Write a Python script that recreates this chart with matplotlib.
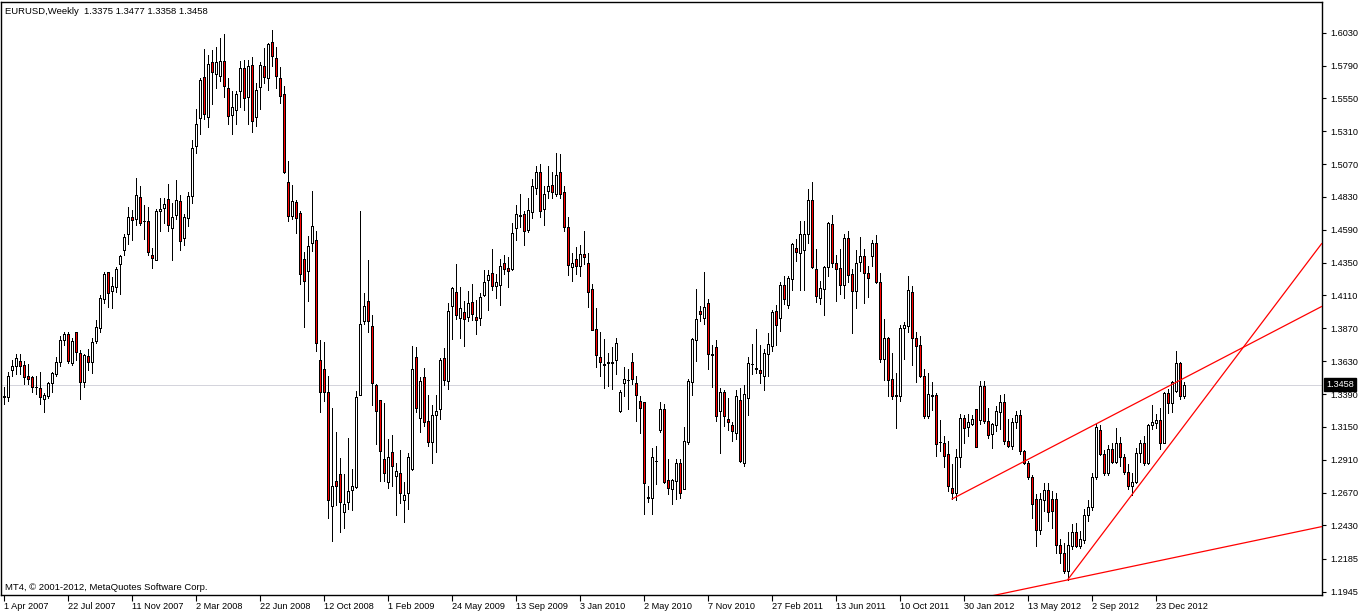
import matplotlib
matplotlib.use("Agg")
import matplotlib.pyplot as plt
import matplotlib.transforms as mtrans
import numpy as np

# ---------------- data (weekly EURUSD OHLC) ----------------
opens = [1.3375,1.3369,1.3563,1.3595,1.3633,1.3600,1.3525,1.3512,1.3442,1.3437,
1.3356,1.3379,1.3467,1.3538,1.3626,1.3782,1.3827,1.3613,1.3840,1.3689,
1.3475,1.3671,1.3626,1.3777,1.3870,1.4086,1.4280,1.4142,1.4174,1.4338,
1.4444,1.4559,1.4683,1.4666,1.4828,1.4658,1.4658,1.4403,1.4373,1.4726,
1.4746,1.4814,1.4600,1.4696,1.4801,1.4527,1.4675,1.4834,1.5204,1.5405,
1.5707,1.5418,1.5815,1.5732,1.5715,1.5823,1.5626,1.5430,1.5463,1.5601,
1.5773,1.5563,1.5798,1.5412,1.5631,1.5785,1.5697,1.5966,1.5848,1.5702,
1.5581,1.4942,1.4688,1.4791,1.4713,1.4380,1.4292,1.4494,1.4519,1.3638,
1.3570,1.3404,1.2568,1.2757,1.2807,1.2531,1.2598,1.2687,1.2712,1.3386,
1.3920,1.4071,1.3890,1.3457,1.3344,1.2913,1.2744,1.2964,1.2790,1.2815,
1.2614,1.2664,1.2840,1.3658,1.3218,1.3512,1.3190,1.3039,1.3235,1.3278,
1.3651,1.3482,1.4033,1.4134,1.3945,1.3991,1.3953,1.4061,1.3954,1.3942,
1.4115,1.4224,1.4271,1.4181,1.4188,1.4344,1.4310,1.4302,1.4600,1.4692,
1.4702,1.4590,1.4717,1.4899,1.5009,1.4741,1.4875,1.4919,1.4855,1.5009,
1.4870,1.4614,1.4315,1.4375,1.4327,1.4412,1.4351,1.4156,1.3864,1.3657,
1.3608,1.3613,1.3620,1.3640,1.3267,1.3467,1.3494,1.3627,1.3474,1.3340,
1.3328,1.2633,1.2633,1.2902,1.3126,1.3284,1.2760,1.2699,1.2755,1.2889,
1.2699,1.3040,1.3479,1.3786,1.3998,1.3942,1.4054,1.3686,1.3730,1.3267,
1.3401,1.3206,1.3162,1.3108,1.3345,1.2889,1.3364,1.3610,1.3578,1.3566,
1.3518,1.3686,1.3742,1.3993,1.3949,1.4185,1.4042,1.4234,1.4456,1.4417,
1.4440,1.4558,1.4807,1.4307,1.4095,1.4156,1.4319,1.4636,1.4351,1.4310,
1.4188,1.4529,1.4266,1.4144,1.4356,1.4395,1.4278,1.4395,1.4497,1.4205,
1.3649,1.3796,1.3498,1.3376,1.3372,1.3876,1.3888,1.4139,1.3796,1.3747,
1.3518,1.3231,1.3381,1.3381,1.3040,1.3035,1.2950,1.2706,1.2670,1.2926,
1.3218,1.3152,1.3169,1.3279,1.3201,1.3445,1.3194,1.3096,1.3162,1.3259,
1.3328,1.3047,1.3011,1.3186,1.3238,1.2974,1.2884,1.2787,1.2626,1.2397,
1.2616,1.2689,1.2621,1.2621,1.2285,1.2231,1.2097,1.2280,1.2382,1.2280,
1.2324,1.2504,1.2567,1.2787,1.3128,1.2950,1.2811,1.2987,1.2894,1.3035,
1.2926,1.2821,1.2719,1.2748,1.2957,1.3035,1.2884,1.3162,1.3181,1.3201,
1.3035,1.3396,1.3323,1.3413,1.3620,1.3375]

highs = [1.3440,1.3550,1.3638,1.3683,1.3683,1.3631,1.3608,1.3525,1.3525,1.3550,
1.3399,1.3475,1.3550,1.3663,1.3814,1.3845,1.3845,1.3802,1.3845,1.3709,
1.3683,1.3719,1.3802,1.3928,1.4116,1.4280,1.4285,1.4247,1.4318,1.4406,
1.4559,1.4758,1.4734,1.4971,1.4909,1.4771,1.4759,1.4456,1.4741,1.4822,
1.4822,1.4922,1.4784,1.4952,1.4841,1.4708,1.4866,1.5244,1.5470,1.5702,
1.5908,1.5866,1.5903,1.5924,1.5991,1.6024,1.5697,1.5601,1.5601,1.5823,
1.5828,1.5833,1.5853,1.5664,1.5815,1.5916,1.5959,1.6049,1.5924,1.5777,
1.5639,1.5093,1.4914,1.4808,1.4725,1.4431,1.4544,1.4876,1.4582,1.3784,
1.3769,1.3525,1.3286,1.3115,1.2921,1.2807,1.3072,1.2845,1.3411,1.4725,
1.4129,1.4368,1.3965,1.3462,1.3349,1.3323,1.3064,1.3089,1.2883,1.2984,
1.2745,1.2959,1.3739,1.3734,1.3512,1.3580,1.3386,1.3306,1.3381,1.3651,
1.3726,1.4053,1.4172,1.4343,1.4172,1.4071,1.4142,1.4197,1.4076,1.4127,
1.4297,1.4295,1.4449,1.4266,1.4375,1.4405,1.4388,1.4639,1.4770,1.4851,
1.4729,1.4819,1.4965,1.5058,1.5070,1.4912,1.5053,1.5016,1.5150,1.5143,
1.4912,1.4687,1.4417,1.4461,1.4478,1.4578,1.4417,1.4193,1.4022,1.3840,
1.3791,1.3688,1.3730,1.3796,1.3420,1.3591,1.3571,1.3688,1.3518,1.3376,
1.3333,1.2714,1.2999,1.3011,1.3328,1.3316,1.2918,1.2772,1.2918,1.2918,
1.3152,1.3498,1.3796,1.4156,1.4034,1.4283,1.4083,1.3747,1.3783,1.3437,
1.3420,1.3359,1.3189,1.3420,1.3432,1.3454,1.3657,1.3754,1.3864,1.3747,
1.3718,1.3835,1.4005,1.4039,1.4205,1.4249,1.4249,1.4492,1.4522,1.4651,
1.4651,1.4887,1.4943,1.4449,1.4217,1.4327,1.4648,1.4697,1.4405,1.4449,
1.4558,1.4583,1.4307,1.4444,1.4534,1.4449,1.4327,1.4514,1.4551,1.4278,
1.3937,1.3803,1.3688,1.3542,1.3895,1.3917,1.4249,1.4176,1.3844,1.3815,
1.3571,1.3547,1.3481,1.3396,1.3201,1.3084,1.3047,1.2877,1.2987,1.3242,
1.3235,1.3242,1.3235,1.3284,1.3486,1.3486,1.3291,1.3181,1.3303,1.3381,
1.3389,1.3206,1.3218,1.3267,1.3274,1.2982,1.2901,1.2797,1.2660,1.2665,
1.2738,1.2743,1.2682,1.2665,1.2329,1.2304,1.2382,1.2438,1.2446,1.2390,
1.2553,1.2616,1.2811,1.3169,1.3162,1.2982,1.3016,1.3030,1.3138,1.3079,
1.2950,1.2877,1.2816,1.2999,1.3055,1.3084,1.3169,1.3308,1.3242,1.3291,
1.3401,1.3425,1.3486,1.3705,1.3625,1.3477]

lows = [1.3320,1.3336,1.3525,1.3538,1.3538,1.3462,1.3462,1.3407,1.3387,1.3316,
1.3256,1.3361,1.3407,1.3525,1.3593,1.3751,1.3618,1.3605,1.3638,1.3356,
1.3442,1.3563,1.3543,1.3764,1.3840,1.4053,1.4028,1.4016,1.4136,1.4121,
1.4406,1.4488,1.4519,1.4625,1.4625,1.4524,1.4406,1.4310,1.4368,1.4582,
1.4640,1.4582,1.4368,1.4666,1.4439,1.4482,1.4615,1.4783,1.5148,1.5287,
1.5400,1.5345,1.5513,1.5626,1.5677,1.5564,1.5362,1.5287,1.5362,1.5488,
1.5463,1.5362,1.5304,1.5349,1.5470,1.5664,1.5614,1.5790,1.5626,1.5518,
1.5002,1.4657,1.4670,1.4569,1.4197,1.3877,1.4071,1.4438,1.3701,1.3255,
1.3341,1.2485,1.2316,1.2581,1.2384,1.2410,1.2551,1.2543,1.2702,1.3381,
1.3902,1.3840,1.3306,1.3021,1.2757,1.2757,1.2702,1.2719,1.2506,1.2594,
1.2455,1.2551,1.2833,1.3255,1.3110,1.3155,1.3009,1.2883,1.2964,1.3210,
1.3457,1.3424,1.3789,1.3940,1.3802,1.3744,1.3920,1.3928,1.3832,1.3896,
1.4107,1.4005,1.4149,1.4088,1.4042,1.4266,1.4173,1.4297,1.4517,1.4612,
1.4480,1.4575,1.4675,1.4851,1.4685,1.4626,1.4819,1.4819,1.4834,1.4819,
1.4583,1.4261,1.4217,1.4266,1.4254,1.4339,1.4029,1.3857,1.3584,1.3523,
1.3437,1.3445,1.3430,1.3535,1.3260,1.3376,1.3279,1.3462,1.3194,1.3108,
1.2516,1.2602,1.2516,1.2731,1.3113,1.2738,1.2658,1.2585,1.2621,1.2633,
1.2694,1.3023,1.3381,1.3632,1.3925,1.3900,1.3571,1.3444,1.3194,1.2962,
1.3157,1.3128,1.3047,1.3064,1.2896,1.2865,1.3238,1.3535,1.3542,1.3474,
1.3420,1.3523,1.3705,1.3749,1.3852,1.4046,1.4022,1.4151,1.4363,1.4151,
1.4151,1.4497,1.4310,1.4063,1.4046,1.3969,1.4254,1.4315,1.4071,1.4120,
1.4095,1.4205,1.3835,1.4015,1.4290,1.4054,1.4100,1.4327,1.4200,1.3625,
1.3493,1.3376,1.3352,1.3145,1.3340,1.3645,1.3840,1.3601,1.3479,1.3515,
1.3218,1.3211,1.3274,1.2938,1.2974,1.2853,1.2682,1.2621,1.2616,1.2853,
1.3030,1.3084,1.3162,1.3004,1.3169,1.3177,1.3072,1.2999,1.3121,1.3133,
1.3023,1.3006,1.2987,1.3145,1.2950,1.2877,1.2772,1.2487,1.2280,1.2370,
1.2536,1.2463,1.2414,1.2231,1.2153,1.2085,1.2031,1.2255,1.2275,1.2268,
1.2299,1.2463,1.2543,1.2772,1.2943,1.2797,1.2797,1.2884,1.2884,1.2865,
1.2804,1.2694,1.2650,1.2738,1.2894,1.2870,1.2877,1.3133,1.3138,1.2991,
1.3030,1.3250,1.3259,1.3406,1.3352,1.3358]

closes = [1.3370,1.3525,1.3593,1.3651,1.3593,1.3517,1.3500,1.3442,1.3440,1.3369,
1.3386,1.3467,1.3543,1.3621,1.3782,1.3827,1.3631,1.3777,1.3694,1.3475,
1.3676,1.3626,1.3769,1.3877,1.4091,1.4267,1.4129,1.4179,1.4305,1.4398,
1.4539,1.4683,1.4663,1.4841,1.4638,1.4655,1.4431,1.4381,1.4726,1.4741,
1.4778,1.4625,1.4683,1.4809,1.4507,1.4683,1.4834,1.5186,1.5362,1.5682,
1.5438,1.5803,1.5740,1.5815,1.5823,1.5639,1.5425,1.5488,1.5581,1.5773,
1.5556,1.5785,1.5382,1.5609,1.5798,1.5710,1.5946,1.5858,1.5715,1.5571,
1.5010,1.4688,1.4801,1.4678,1.4267,1.4217,1.4469,1.4615,1.3764,1.3406,
1.3406,1.2618,1.2719,1.2714,1.2601,1.2586,1.2682,1.2714,1.3366,1.3902,
1.4033,1.3920,1.3467,1.3265,1.2971,1.2813,1.2933,1.2863,1.2828,1.2664,
1.2651,1.2928,1.3575,1.3286,1.3482,1.3185,1.3039,1.3240,1.3265,1.3638,
1.3492,1.3995,1.4162,1.3965,1.4016,1.3935,1.4053,1.3978,1.3934,1.4102,
1.4205,1.4258,1.4181,1.4205,1.4322,1.4302,1.4290,1.4570,1.4709,1.4695,
1.4578,1.4734,1.4907,1.5009,1.4724,1.4851,1.4907,1.4863,1.4989,1.4855,
1.4612,1.4334,1.4351,1.4327,1.4412,1.4388,1.4137,1.3859,1.3676,1.3627,
1.3605,1.3627,1.3621,1.3766,1.3401,1.3503,1.3493,1.3498,1.3381,1.3291,
1.2743,1.2635,1.2926,1.2900,1.3279,1.2748,1.2706,1.2760,1.2889,1.2670,
1.3043,1.3486,1.3791,1.3937,1.3978,1.4029,1.3686,1.3676,1.3231,1.3408,
1.3226,1.3182,1.3116,1.3372,1.2901,1.3389,1.3620,1.3608,1.3576,1.3542,
1.3693,1.3754,1.3986,1.3895,1.4185,1.4083,1.4237,1.4485,1.4429,1.4563,
1.4560,1.4807,1.4315,1.4107,1.4163,1.4319,1.4639,1.4344,1.4302,1.4188,
1.4529,1.4261,1.4144,1.4351,1.4395,1.4278,1.4241,1.4497,1.4205,1.3649,
1.3796,1.3493,1.3376,1.3380,1.3876,1.3893,1.4149,1.3796,1.3742,1.3518,
1.3231,1.3393,1.3379,1.3023,1.3038,1.2938,1.2714,1.2670,1.2926,1.3218,
1.3145,1.3186,1.3206,1.3006,1.3445,1.3194,1.3089,1.3169,1.3267,1.3328,
1.3047,1.3011,1.3186,1.3235,1.2974,1.2884,1.2787,1.2589,1.2397,1.2626,
1.2689,1.2528,1.2536,1.2285,1.2231,1.2097,1.2285,1.2382,1.2280,1.2329,
1.2504,1.2567,1.2787,1.3152,1.2950,1.2811,1.2991,1.2894,1.3035,1.2926,
1.2821,1.2719,1.2748,1.2957,1.3035,1.2884,1.3162,1.3186,1.3201,1.3035,
1.3396,1.3323,1.3479,1.3620,1.3372,1.3458]

date_labels = ["1 Apr 2007", "22 Jul 2007", "11 Nov 2007", "2 Mar 2008", "22 Jun 2008",
               "12 Oct 2008", "1 Feb 2009", "24 May 2009", "13 Sep 2009", "3 Jan 2010",
               "2 May 2010", "7 Nov 2010", "27 Feb 2011", "13 Jun 2011", "10 Oct 2011",
               "30 Jan 2012", "13 May 2012", "2 Sep 2012", "23 Dec 2012"]
label_every = 16  # bars between date labels

price_ticks = [1.6030, 1.5790, 1.5550, 1.5310, 1.5070, 1.4830, 1.4590, 1.4350, 1.4110,
               1.3870, 1.3630, 1.3390, 1.3150, 1.2910, 1.2670, 1.2430, 1.2185, 1.1945]
price_tick_labels = ["1.6030", "1.5790", "1.5550", "1.5310", "1.5070", "1.4830", "1.4590",
                     "1.4350", "1.4110", "1.3870", "1.3630", "1.3390", "1.3150", "1.2910",
                     "1.2670", "1.2430", "1.2185", "1.1945"]

current_price = 1.3458
title_text = "EURUSD,Weekly  1.3375 1.3477 1.3358 1.3458"
copyright_text = "MT4, \u00a9 2001-2012, MetaQuotes Software Corp."

# trend lines: (bar index, price) anchor pairs
trend_upper = [(237, 1.2621), (273, 1.3169)]
trend_steep = [(266, 1.2031), (282, 1.2650)]
trend_lower = [(266, 1.2031), (296, 1.2215)]

# ---------------- figure ----------------
plt.rcParams['font.family'] = ['Liberation Sans', 'DejaVu Sans']
W, H = 1360, 613
fig = plt.figure(figsize=(W / 100, H / 100), dpi=100)
fig.patch.set_facecolor('white')
ax = fig.add_axes([1 / W, (H - 595) / H, 1321 / W, 593 / H])
ax.set_facecolor('white')

n = len(closes)
x = np.arange(n)
o = np.array(opens); h = np.array(highs); l = np.array(lows); c = np.array(closes)

# 4 px per bar, bar centres on pixel centres
xmin = -0.625
xmax = xmin + 1321 / 4
ymin, ymax = 1.1921, 1.6255
ax.set_xlim(xmin, xmax)
ax.set_ylim(ymin, ymax)

# current price line
ax.axhline(current_price, color='#d4d4dc', lw=0.72, zorder=1)

PX = 0.72  # one pixel in points
# wicks
ax.vlines(x, l, h, color='black', lw=PX, zorder=2, antialiased=False)
# bodies
bull = c >= o
bottoms = np.minimum(o, c)
heights = np.maximum(np.abs(c - o), 0.00005)
faces = np.where(bull, 'white', '#ff0000')
ax.bar(x, heights, bottom=bottoms, width=0.5, color=faces, edgecolor='black',
       linewidth=PX, zorder=3, antialiased=False)

# trend lines
def draw_trend(anchors, both=False):
    (b1, p1), (b2, p2) = anchors
    slope = (p2 - p1) / (b2 - b1)
    start = xmin if both else b1
    xs = np.array([start, xmax])
    ys = p1 + slope * (xs - b1)
    ax.plot(xs, ys, color='#ff0000', lw=0.9, zorder=4, solid_capstyle='butt')

draw_trend(trend_upper)
draw_trend(trend_steep)
draw_trend(trend_lower, both=True)

# axes styling
for s in ax.spines.values():
    s.set_color('black')
    s.set_linewidth(1.0)

ax.yaxis.tick_right()
ax.set_yticks(price_ticks)
ax.set_yticklabels(price_tick_labels)
ax.tick_params(axis='y', which='both', direction='out', length=3, width=0.8,
               labelsize=6.6, pad=3, colors='black')

tick_pos = [i * label_every for i in range(len(date_labels))]
ax.set_xticks(tick_pos)
ax.set_xticklabels(date_labels)
ax.tick_params(axis='x', direction='out', length=4, width=0.8, labelsize=6.6, pad=1)
offset = mtrans.ScaledTranslation(1 / 100, 0, fig.dpi_scale_trans)
for lab in ax.get_xticklabels():
    lab.set_horizontalalignment('left')
    lab.set_transform(lab.get_transform() + offset)

# title and copyright
ax.text(4 / 1321, 1 - 9 / 593, title_text, transform=ax.transAxes, fontsize=6.8,
        va='center', ha='left', color='black')
ax.text(4 / 1321, 8 / 593, copyright_text, transform=ax.transAxes, fontsize=6.8,
        va='center', ha='left', color='black')

# current price marker on the axis
ax.annotate(f"{current_price:.4f}", xy=(1.0, current_price),
            xycoords=('axes fraction', 'data'), xytext=(3, 0), textcoords='offset points',
            va='center', ha='left', fontsize=6.6, color='white',
            bbox=dict(boxstyle='square,pad=0.2', fc='black', ec='black'), zorder=6,
            annotation_clip=False)

fig.savefig('out.png', dpi=100, facecolor='white')
